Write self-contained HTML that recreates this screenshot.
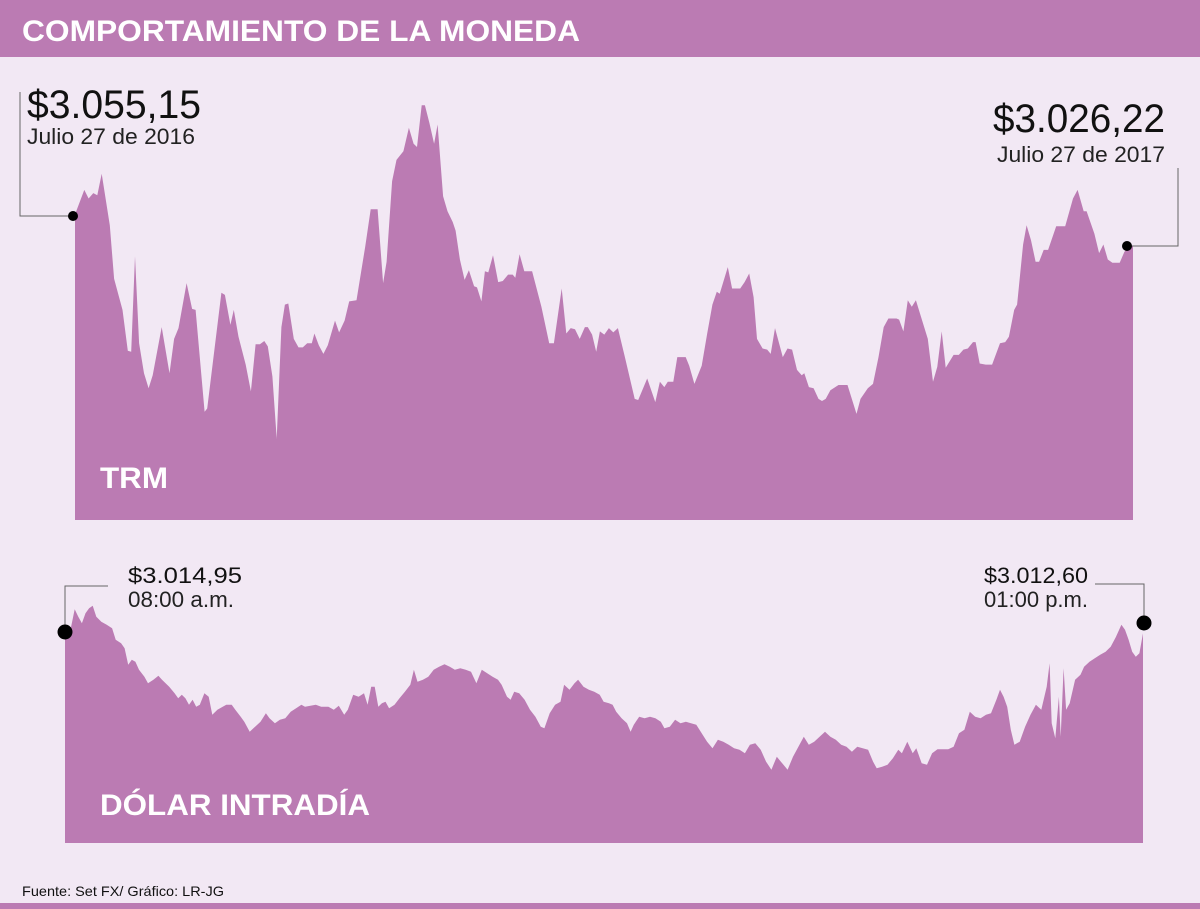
<!DOCTYPE html>
<html><head><meta charset="utf-8"><style>
html,body{margin:0;padding:0;background:#f2e8f4;}
svg{display:block;font-family:"Liberation Sans",sans-serif;}
</style></head><body>
<svg id="chart" width="1200" height="909" viewBox="0 0 1200 909">
<rect x="0" y="0" width="1200" height="909" fill="#f2e8f4"/>
<rect x="0" y="0" width="1200" height="57" fill="#bb7bb3"/>
<text x="22" y="41" fill="#fff" font-weight="bold" font-size="30" textLength="558" lengthAdjust="spacingAndGlyphs">COMPORTAMIENTO DE LA MONEDA</text>
<g id="trm"></g>
<g id="intra"></g>
<text x="100" y="488" fill="#fff" font-weight="bold" font-size="30" textLength="68" lengthAdjust="spacingAndGlyphs">TRM</text>
<text x="100" y="815" fill="#fff" font-weight="bold" font-size="30" textLength="270" lengthAdjust="spacingAndGlyphs">DÓLAR INTRADÍA</text>
<text x="22" y="896" fill="#111" font-size="14" textLength="202" lengthAdjust="spacingAndGlyphs">Fuente: Set FX/ Gráfico: LR-JG</text>
<rect x="0" y="903" width="1200" height="6" fill="#bb7bb3"/>
<!-- TRM annotations -->
<polyline points="73,216 20,216 20,92" fill="none" stroke="#666" stroke-width="1"/>
<text x="27" y="118" font-size="40" fill="#111" textLength="174" lengthAdjust="spacingAndGlyphs">$3.055,15</text>
<text x="27" y="144" font-size="22" fill="#222" textLength="168" lengthAdjust="spacingAndGlyphs">Julio 27 de 2016</text>
<polyline points="1127,246 1178,246 1178,168" fill="none" stroke="#666" stroke-width="1"/>
<text x="1165" y="132" font-size="40" fill="#111" text-anchor="end" textLength="172" lengthAdjust="spacingAndGlyphs">$3.026,22</text>
<text x="1165" y="162" font-size="22" fill="#222" text-anchor="end" textLength="168" lengthAdjust="spacingAndGlyphs">Julio 27 de 2017</text>
<!-- Intraday annotations -->
<polyline points="65,632 65,586 108,586" fill="none" stroke="#666" stroke-width="1"/>
<text x="128" y="583" font-size="22" fill="#111" textLength="114" lengthAdjust="spacingAndGlyphs">$3.014,95</text>
<text x="128" y="607" font-size="22" fill="#222" textLength="106" lengthAdjust="spacingAndGlyphs">08:00 a.m.</text>
<polyline points="1095,584 1144,584 1144,623" fill="none" stroke="#666" stroke-width="1"/>
<text x="1088" y="583" font-size="22" fill="#111" text-anchor="end" textLength="104" lengthAdjust="spacingAndGlyphs">$3.012,60</text>
<text x="1088" y="607" font-size="22" fill="#222" text-anchor="end" textLength="104" lengthAdjust="spacingAndGlyphs">01:00 p.m.</text>
</svg>
<script>
const trmDays = [0,3.2,4.7,6.3,7.7,9.2,12,13.5,16.4,18.2,19.4,20.7,22.1,23.8,25.4,26.8,29.9,32.6,34.2,35.7,38.5,40.4,41.6,44.7,45.6,50.5,51.7,53.6,54.8,56.4,58.9,60.7,62.3,63.8,65.3,66.5,68.1,69.6,71.2,72.4,73.6,75.5,77.1,78.6,80.1,81.7,82.6,84.1,85.7,87.2,89.7,91.1,93,94.6,97.1,100.1,102,104.4,106.3,107.5,109.4,110.9,113.3,115.2,116.8,118,119.6,120.7,122.3,123.9,125.1,127,128.5,130.3,131.3,132.8,134.4,135.9,137.7,138.7,140.2,141.4,142.6,144.2,146,147.6,149.4,151,151.9,153.4,155,157.7,160.9,163.6,165.2,167.9,169.5,171,172.5,174.1,175.9,176.9,178.4,179.8,181.1,182.6,184.2,185.7,187.3,189.7,193.1,194.3,197.4,200.2,201.8,203.3,204.5,206.4,207.8,210.7,211.9,213.7,216.2,218.1,219.9,221.4,222.4,225.2,226.7,229.5,231,232.6,234.1,235.3,237.2,238.8,240,241.5,244.2,245.8,247.4,249.1,250.7,251.6,253.2,254.8,256.5,257.7,259,260.6,263.4,266.5,269.6,271,273.5,275.3,277.2,279,280.6,283.4,284.3,285.8,287.3,288.7,290.1,294.2,296,297.5,299,300.4,303.1,304.9,306.5,308,309.8,310.7,312.1,314.2,316.4,319.1,320.9,322.2,324,325,327.1,328.3,329.8,331.4,332.6,334.2,335.7,338.5,341.6,344.3,345.9,348,349,351.7,353.3,354.8,356.3,357.9,360.4,362,363.2,365];
const trmValues = [3055,3078,3070,3075,3073,3093,3045,2995,2966,2928,2927,3016,2935,2907,2893,2905,2950,2907,2939,2949,2991,2967,2966,2871,2874,2982,2980,2952,2966,2941,2915,2890,2934,2934,2937,2932,2904,2846,2950,2971,2972,2939,2931,2931,2935,2935,2944,2933,2925,2933,2956,2945,2956,2974,2975,3025,3060,3060,2991,3011,3086,3106,3114,3136,3121,3118,3157,3157,3140,3121,3139,3072,3058,3048,3040,3013,2994,3003,2988,2987,2974,3002,3001,3017,2992,2993,2999,2999,2996,3018,3002,3002,2969,2935,2935,2986,2944,2949,2948,2939,2950,2950,2943,2927,2946,2943,2949,2945,2949,2922,2883,2882,2902,2880,2899,2894,2899,2899,2922,2922,2914,2897,2914,2944,2971,2983,2981,3006,2986,2986,2992,3000,2978,2939,2930,2929,2925,2949,2922,2930,2929,2910,2905,2907,2894,2893,2883,2881,2883,2891,2896,2896,2869,2883,2893,2897,2922,2950,2958,2958,2957,2946,2975,2969,2975,2939,2899,2913,2946,2912,2924,2924,2929,2930,2936,2936,2916,2915,2915,2935,2936,2941,2966,2971,3027,3045,3031,3011,3011,3022,3022,3044,3044,3070,3078,3058,3058,3037,3019,3027,3013,3010,3010,3020,3024,3026];
const intraMinutes = [0,1.7,2.7,3.7,4.7,5.7,6.7,7.7,8.7,10.1,11.6,13.1,14.1,15.6,16.6,17.6,18.6,19.6,20.6,22.1,23.1,24.6,26,27,29,30.5,31.5,32.5,33.5,34.5,35.5,36.5,37.5,38.8,40,41,42.4,43.9,44.9,46.4,47.4,48.9,49.9,51.4,52.9,54.4,55.9,56.9,58.4,59.8,61.3,62.8,64.3,65.8,66.8,68.3,69.8,71.3,73.3,74.8,76.2,77.7,78.7,80.2,81.7,83.2,84.2,85.2,86.2,87.2,88.2,89.2,90.2,91.7,93.1,94.6,96.1,97.1,98.1,99.6,101.1,102.6,104.1,105.6,107.1,108.5,110,111.5,113,114.5,116,117.5,119,120.5,121.5,123,124,125,126.4,127.9,129.4,130.9,132.4,133.4,134.9,136.4,137.9,138.9,140.4,141.8,142.8,144.3,145.8,147.3,148.8,149.9,151.4,152.4,153.4,154.9,156.4,157.4,158.3,159.8,161.3,162.8,164.3,165.8,166.8,168.3,169.8,171.3,172.8,174.2,175.7,177.2,178.7,180.2,181.7,183.2,184.7,186.2,187.7,189.2,190.6,192.1,193.6,195.1,196.6,198.1,199.6,201.1,202.6,204.1,205.6,207,208.5,210,211.5,213,214.5,216,217.5,219,220.5,222,223.5,224.9,225.9,227.4,228.9,230.4,231.9,232.9,234.4,235.9,236.9,238.4,239.9,241.3,242.8,244.3,245.8,247.3,248.8,250.3,251.8,253.3,254.8,256.3,257.7,259.2,260.2,261.2,262.2,263.2,264.2,265.7,267.2,268.7,270.2,271.7,273.2,274,274.6,275.6,276.6,277.1,277.9,278.6,279.6,281.1,282.6,283.6,285.1,286.6,288.1,289.6,291,292.5,294,295,296,297,298,299,300];
const intraValues = [3015,3016,3019.5,3018,3016.7,3018.7,3019.7,3020.2,3018,3017,3016.4,3015.7,3013.4,3012.7,3011.7,3008.4,3009.4,3009,3007.4,3006,3004.7,3005.4,3006.2,3005.4,3004,3002.7,3001.7,3002.4,3001.7,3000.4,3001.4,3000,3000.4,3002.7,3002,2998.4,2999.4,3000,3000.4,3000.4,2999.4,2998,2997,2995,2996,2997,2998.7,2997.7,2996.7,2997.4,2997.7,2999,2999.7,3000.4,3000,3000.2,3000.4,3000,3000,2999.4,3000.2,2998.4,2999.4,3002.4,3002,3002.7,3000.4,3004,3004,3000,3000.7,3001,2999.7,3000.4,3001.7,3003,3004.4,3007.4,3005,3005.4,3006,3007.4,3008,3008.5,3008,3007.4,3007.7,3007.4,3007,3004.7,3007.4,3006.7,3006,3005.4,3004.4,3002,3001.4,3003,3002.7,3001.4,2999.4,2998,2996,2995.7,2998.7,3000.4,3001,3004.4,3003.4,3004.7,3005.4,3004,3003.4,3003,3002.4,3001,3000.7,3000.4,2999,2997.7,2996.7,2995,2996.4,2998,2997.7,2998,2997.7,2997,2995.7,2996,2997.4,2996.7,2997,2996.7,2996.4,2994.7,2993,2991.7,2993.4,2993,2992.4,2991.7,2991.4,2990.7,2992.4,2992.7,2991.4,2989,2987.4,2990,2988.7,2987.4,2990,2992,2994,2992.4,2993,2994,2995,2994,2993.4,2992.4,2992,2991,2992,2991.7,2991.4,2989,2987.7,2988,2988.4,2989.7,2991.4,2990.7,2993,2990.7,2991.7,2988.7,2988.4,2990.7,2991.5,2991.5,2991.5,2992,2994.7,2995.4,2999,2998,2997.7,2998.4,2998.7,3001.4,3003.4,3002,3000,2995.4,2992.4,2993,2996,2998.4,3000.4,2999.4,3004,3008.7,2996.7,2993.7,3002,2994,3007.7,2999.4,3000.7,3005.4,3006.4,3008,3009,3009.7,3010.4,3011,3012,3014,3016.4,3015.4,3013.4,3011,3010,3010.7,3014.7];

const NS = 'http://www.w3.org/2000/svg';
const fill = '#bb7bb3';
// TRM axes
function trmX(d){ return 75 + d * (1058 / 365); }
function trmY(v){ return 520 - (v - 2770) / 0.933; }
// Intraday axes
function inX(m){ return 65 + m * (1078 / 300); }
function inY(v){ return 632 + (3014.95 - v) * 5; }

function area(g, xs, ys, fx, fy, base){
  let d = 'M' + fx(xs[0]).toFixed(1) + ',' + base;
  for (let i = 0; i < xs.length; i++) d += 'L' + fx(xs[i]).toFixed(1) + ',' + fy(ys[i]).toFixed(1);
  d += 'L' + fx(xs[xs.length - 1]).toFixed(1) + ',' + base + 'Z';
  const p = document.createElementNS(NS, 'path');
  p.setAttribute('d', d);
  p.setAttribute('fill', fill);
  g.appendChild(p);
  return p;
}
const trmG = document.getElementById('trm');
const trmArea = area(trmG, trmDays, trmValues, trmX, trmY, 520);


const inG = document.getElementById('intra');
const inArea = area(inG, intraMinutes, intraValues, inX, inY, 843);



function dot(g, x, y, r){
  const c = document.createElementNS(NS, 'circle');
  c.setAttribute('cx', x); c.setAttribute('cy', y); c.setAttribute('r', r);
  c.setAttribute('fill', '#000');
  g.appendChild(c);
  return c;
}
const svg = document.getElementById('chart');
const d1 = dot(svg, 73, 216, 5);


const d2 = dot(svg, 1127, 246, 5);


const d3 = dot(svg, 65, 632, 7.5);


const d4 = dot(svg, 1144, 623, 7.5);


</script>
</body></html>
